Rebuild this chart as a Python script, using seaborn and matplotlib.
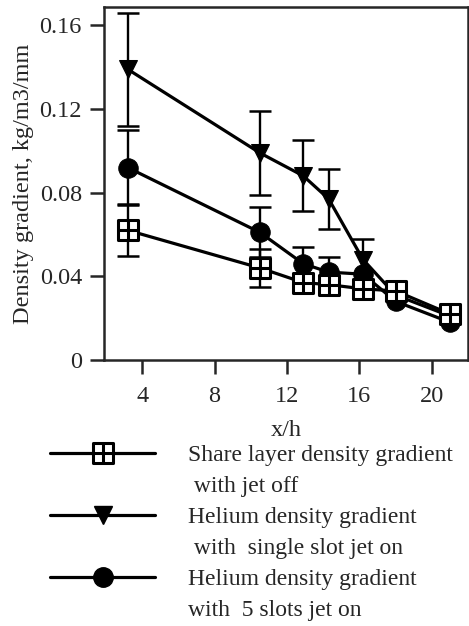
import numpy as np
import pandas as pd
import matplotlib
matplotlib.use('Agg')
import matplotlib.pyplot as plt
from matplotlib.path import Path
from matplotlib.lines import Line2D
import seaborn as sns

# --- DATA ---
x_h = [3.2, 10.5, 12.9, 14.3, 16.2, 18.0, 21.0]
shear_jet_off = [0.062, 0.044, 0.037, 0.036, 0.034, 0.033, 0.022]
shear_err = [0.0125, 0.009, 0, 0, 0, 0, 0]
single_slot_on = [0.139, 0.099, 0.088, 0.077, 0.048, 0.031, 0.021]
single_err = [0.027, 0.020, 0.017, 0.0145, 0.010, 0, 0]
five_slots_on = [0.092, 0.061, 0.046, 0.042, 0.041, 0.028, 0.018]
five_err = [0.018, 0.012, 0.008, 0.007, 0, 0, 0]

labels = [
    ('Share layer density gradient', ' with jet off'),
    ('Helium density gradient', ' with  single slot jet on'),
    ('Helium density gradient', 'with  5 slots jet on'),
]
y_ticks = [0, 0.04, 0.08, 0.12, 0.16]
y_tick_labels = ['0', '0.04', '0.08', '0.12', '0.16']
x_ticks = [4, 8, 12, 16, 20]

# --- STYLE ---
sns.set_style('ticks')
plt.rcParams['font.family'] = ['Liberation Serif', 'DejaVu Serif']
plt.rcParams['axes.linewidth'] = 1.8

# square with a cross inside
sq_verts = [(-1, -1), (1, -1), (1, 1), (-1, 1), (-1, -1),
            (0, -1), (0, 1), (-1, 0), (1, 0)]
sq_codes = [Path.MOVETO, Path.LINETO, Path.LINETO, Path.LINETO, Path.CLOSEPOLY,
            Path.MOVETO, Path.LINETO, Path.MOVETO, Path.LINETO]
box_plus = Path(sq_verts, sq_codes)

df = pd.DataFrame({
    'x': x_h * 3,
    'y': shear_jet_off + single_slot_on + five_slots_on,
    'err': shear_err + single_err + five_err,
    'series': ['shear'] * 7 + ['single'] * 7 + ['five'] * 7,
})

fig = plt.figure(figsize=(4.69, 6.26), dpi=100)
ax = fig.add_axes([0.222, 0.425, 0.776, 0.564])

# error bars first so markers sit on top
for name in ['single', 'five', 'shear']:
    sub = df[(df['series'] == name) & (df['err'] > 0)]
    ax.errorbar(sub['x'], sub['y'], yerr=sub['err'], fmt='none',
                ecolor='black', elinewidth=1.7, capsize=8, capthick=1.8, zorder=1)

styles = {
    'single': dict(marker='v', markersize=13.5, markerfacecolor='black',
                   markeredgecolor='black'),
    'five': dict(marker='o', markersize=14, markerfacecolor='black',
                 markeredgecolor='black'),
    'shear': dict(marker=box_plus, markersize=14, markerfacecolor='white',
                  markeredgecolor='black', markeredgewidth=2.2),
}
for name in ['single', 'five', 'shear']:
    sub = df[df['series'] == name]
    sns.lineplot(data=sub, x='x', y='y', ax=ax, color='black', linewidth=2.3,
                 zorder=3, **styles[name])

ax.set_xlim(1.9, 22.0)
ax.set_ylim(0, 0.1688)
ax.set_xticks(x_ticks)
ax.set_yticks(y_ticks)
ax.set_yticklabels(y_tick_labels)
ax.tick_params(axis='both', direction='out', length=10, width=1.8,
               labelsize=17.5)
ax.tick_params(axis='x', pad=9)
ax.tick_params(axis='y', pad=6)
ax.set_xlabel('x/h', fontsize=17.5, labelpad=9)
ax.set_ylabel('Density gradient, kg/m3/mm', fontsize=17.5, labelpad=4)
for side in ['top', 'right', 'left', 'bottom']:
    ax.spines[side].set_visible(True)

# legend: marker line on the first text line, second line has no key
blank = Line2D([], [], linestyle='none', marker='none')
handles = []
legend_labels = []
for name, (l1, l2) in zip(['shear', 'single', 'five'], labels):
    st = styles[name]
    h = Line2D([], [], color='black', linewidth=2.3, **st)
    handles += [h, blank]
    legend_labels += [l1, l2]

fig.legend(handles, legend_labels, loc='upper left',
           bbox_to_anchor=(0.107, 0.290), frameon=False, fontsize=17,
           handlelength=4.45, handletextpad=1.4, labelspacing=0.40,
           borderpad=0, borderaxespad=0)

fig.savefig('out.png', dpi=100)
